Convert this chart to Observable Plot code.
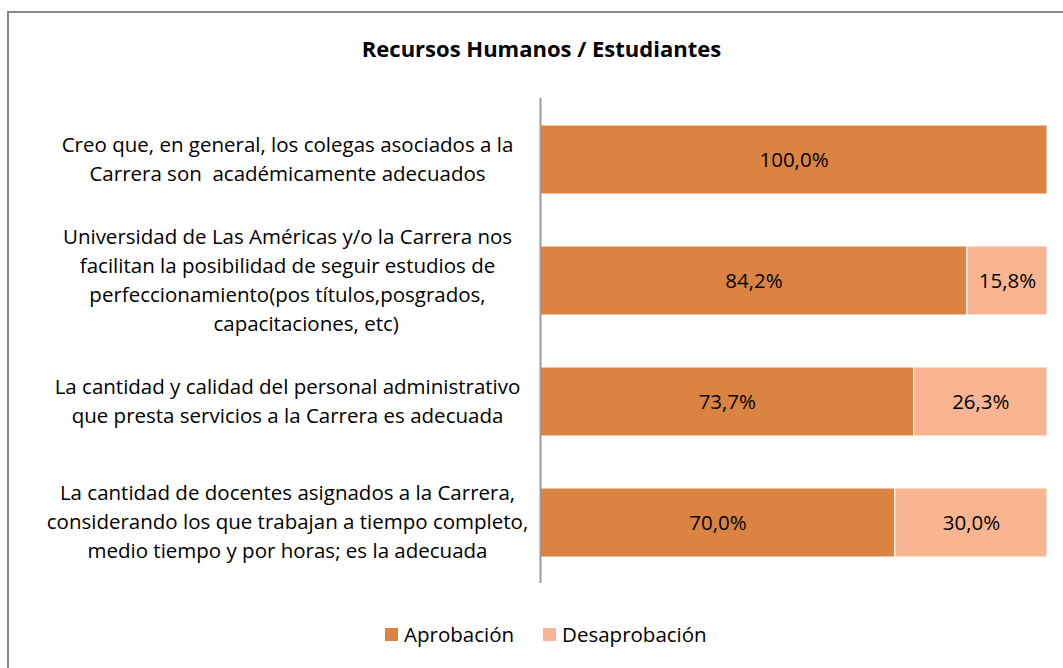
<!DOCTYPE html>
<html>
<head>
<meta charset="utf-8">
<script src="https://cdn.jsdelivr.net/npm/d3@7"></script>
<script src="https://cdn.jsdelivr.net/npm/@observablehq/plot@0.6"></script>
<style>
  html, body { margin: 0; padding: 0; background: #fff; overflow: hidden; }
  body { width: 1063px; height: 668px; position: relative; font-family: "Open Sans", sans-serif; }
  #frame { position: absolute; left: 7px; top: 11px; width: 1100px; height: 700px; border: 2px solid #878787; box-sizing: border-box; }
  #title { position: absolute; left: 0; width: 1083px; top: 33px; text-align: center; font-weight: bold; font-size: 22px; line-height: 30px; color: #000; }
  #chart { position: absolute; left: 0; top: 0; }
  #legend { position: absolute; top: 620px; left: 385px; font-size: 20.5px; line-height: 28px; color: #000; display: flex; align-items: center; }
  .sw { width: 13px; height: 13px; display: inline-block; margin-right: 6px; }
  .item { display: flex; align-items: center; margin-right: 29px; }
</style>
</head>
<body>
<div id="frame"></div>
<div id="title">Recursos Humanos / Estudiantes</div>
<div id="chart"></div>
<div id="legend"></div>
<script>
const categories = [
  "Creo que, en general, los colegas asociados a la\nCarrera son \u00a0académicamente adecuados",
  "Universidad de Las Américas y/o la Carrera nos\nfacilitan la posibilidad de seguir estudios de\nperfeccionamiento(pos títulos,posgrados,\n\u00a0\u00a0\u00a0\u00a0\u00a0\u00a0\u00a0capacitaciones, etc)",
  "La cantidad y calidad del personal administrativo\nque presta servicios a la Carrera es adecuada",
  "La cantidad de docentes asignados a la Carrera,\nconsiderando los que trabajan a tiempo completo,\nmedio tiempo y por horas; es la adecuada"
];
const seriesNames = ["Aprobación", "Desaprobación"];
const seriesColors = ["#DB8441", "#F9B591"];
const aprobacion = [1.000, 0.842, 0.737, 0.700];
const desaprobacion = [0.000, 0.158, 0.263, 0.300];

const table = [];
categories.forEach((c, i) => {
  table.push({cat: c, series: seriesNames[0], value: aprobacion[i]});
  table.push({cat: c, series: seriesNames[1], value: desaprobacion[i]});
});
const fmt = v => d3.format(".1%")(v).replace(".", ",");

const chart = Plot.plot({
  width: 1063,
  height: 668,
  marginLeft: 540,
  marginRight: 16,
  marginTop: 98,
  marginBottom: 85,
  style: {fontFamily: "Open Sans, sans-serif", fontSize: "20.5px", background: "transparent", overflow: "visible"},
  x: {domain: [0, 1], axis: null},
  y: {domain: categories, padding: 0.43, paddingOuter: 0.215, axis: null},
  color: {domain: seriesNames, range: seriesColors},
  marks: [
    Plot.barX(table, Plot.stackX({x: "value", y: "cat", fill: "series", order: seriesNames, stroke: "#fff", strokeWidth: 1})),
    Plot.text(table.filter(d => d.value > 0), Plot.stackX({x: "value", y: "cat", order: seriesNames, z: "series", text: d => fmt(d.value), fill: "#000", fontSize: 20.5})),
    Plot.text(categories, {y: d => d, text: d => d, frameAnchor: "left", dx: -253, dy: -3, textAnchor: "middle", lineHeight: 1.41, fill: "#000", fontSize: 20.5}),
    Plot.ruleX([0], {stroke: "#9a9a9a", strokeWidth: 2})
  ]
});
document.getElementById("chart").appendChild(chart);

const legend = document.getElementById("legend");
seriesNames.forEach((s, i) => {
  const it = document.createElement("div");
  it.className = "item";
  it.innerHTML = `<span class="sw" style="background:${seriesColors[i]}"></span><span>${s}</span>`;
  legend.appendChild(it);
});
</script>
</body>
</html>
